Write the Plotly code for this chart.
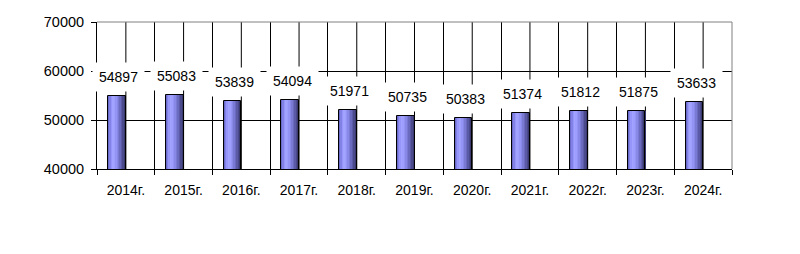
import plotly.graph_objects as go

years = ["2014г.", "2015г.", "2016г.", "2017г.", "2018г.", "2019г.", "2020г.", "2021г.", "2022г.", "2023г.", "2024г."]
values = [54897, 55083, 53839, 54094, 51971, 50735, 50383, 51374, 51812, 51875, 53633]
y_ticks = [40000, 50000, 60000, 70000]
y_tick_labels = ["40000", "50000", "60000", "70000"]

FONT = "Liberation Sans, Arial, sans-serif"
BAR_W = 0.305
BAR_OFF = -0.305
# left-to-right shading of the cylinder-like bars
shades = ["#6a6ac8", "#8282e6", "#9696fa", "#a2a2ff", "#9e9eff", "#9494f4",
          "#8888e6", "#7a7ad4", "#6a6abe", "#5a5aa6", "#4a4a8c", "#3a3a70"]

fig = go.Figure()
n = len(shades)
sw = BAR_W / n
for k, c in enumerate(shades):
    fig.add_trace(go.Bar(
        x=years, y=values,
        offset=BAR_OFF + k * sw, width=sw * 1.1,
        marker=dict(color=c, line=dict(width=0)),
        showlegend=False, hoverinfo="skip",
    ))
fig.add_trace(go.Bar(
    x=years, y=values,
    offset=BAR_OFF, width=BAR_W,
    marker=dict(color="rgba(0,0,0,0)", line=dict(color="#000000", width=1)),
    showlegend=False,
))

shapes = []
for yv in years:
    shapes.append(dict(type="line", xref="x", yref="paper", x0=yv, x1=yv, y0=0, y1=1,
                       line=dict(color="#000000", width=1), layer="between"))
shapes += [
    dict(type="line", xref="paper", yref="paper", x0=0, x1=1, y0=1, y1=1,
         line=dict(color="#808080", width=1), layer="above"),
    dict(type="line", xref="paper", yref="paper", x0=1, x1=1, y0=0, y1=1,
         line=dict(color="#808080", width=1), layer="above"),
]

annotations = []
for yv, v in zip(years, values):
    annotations.append(dict(
        x=yv, y=v, xref="x", yref="y", text=str(v), showarrow=False,
        yshift=19, xshift=-7, bgcolor="#ffffff", borderpad=6,
        font=dict(family=FONT, size=14, color="#000000"),
    ))

fig.update_layout(
    width=800, height=254,
    margin=dict(l=97, r=68, t=22, b=85),
    paper_bgcolor="#ffffff", plot_bgcolor="#ffffff",
    barmode="overlay", bargap=0,
    shapes=shapes, annotations=annotations,
    font=dict(family=FONT, color="#000000"),
)
fig.update_xaxes(
    type="category", tickson="boundaries", range=[-0.5, len(years) - 0.5],
    showgrid=True, gridcolor="#000000", gridwidth=1,
    showline=True, linecolor="#000000", linewidth=1,
    ticks="outside", ticklen=5, tickcolor="#000000",
    tickfont=dict(family=FONT, size=14, color="#000000"),
    ticklabelstandoff=8,
)
fig.update_yaxes(
    range=[40000, 70000], tickvals=y_ticks, ticktext=y_tick_labels,
    showgrid=True, gridcolor="#000000", gridwidth=1,
    showline=True, linecolor="#000000", linewidth=1,
    ticks="outside", ticklen=5, tickcolor="#000000",
    tickfont=dict(family=FONT, size=14.5, color="#000000"),
    ticklabelstandoff=4, zeroline=False,
)

fig.write_html("out.html")
